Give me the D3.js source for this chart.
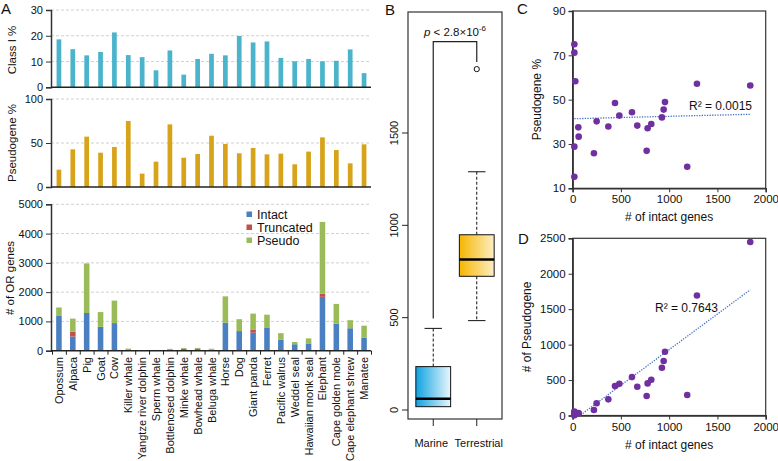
<!DOCTYPE html>
<html><head><meta charset="utf-8">
<script src="https://cdn.jsdelivr.net/npm/d3@7"></script>
<style>
body{margin:0;background:#fff}
text{font-family:"Liberation Sans",Arial,Helvetica,sans-serif;fill:#111}
</style>
</head><body>
<svg id="chart" width="778" height="461"></svg>
<script>
// ---------- DATA ----------
const species = ["Opossum","Alpaca","Pig","Goat","Cow","Killer whale","Yangtze river dolphin","Sperm whale","Bottlenosed dolphin","Minke whale","Bowhead whale","Beluga whale","Horse","Dog","Giant panda","Ferret","Pacific walrus","Weddel seal","Hawaiian monk seal","Elephant","Cape golden mole","Cape elephant shrew","Manatee"];
const classIPct = [18.6,14.8,12.4,13.7,21.3,12.5,11.7,6.6,14.3,4.9,11.0,13.0,12.4,19.9,17.4,17.8,11.4,10.1,11.0,10.1,10.3,14.7,5.5];
const pseudoPct = [19.7,42.8,57.2,39.0,45.5,75.0,15.2,28.8,71.2,33.3,37.5,58.3,48.9,38.3,44.3,37.1,37.9,25.8,40.2,56.4,42.0,26.9,48.5];
const intact    = [1187,484,1288,815,943,18,18,18,18,63,59,28,957,670,615,777,370,221,249,1840,925,767,439];
const truncated = [0,165,0,0,0,0,0,0,0,0,0,0,0,0,110,0,0,0,0,110,0,0,0];
const pseudo    = [289,447,1693,504,768,54,3,7,44,31,35,39,899,406,542,453,228,78,172,2448,673,275,415];
const seriesNames = ["Intact","Truncated","Pseudo"];
const classITicks = [0,10,20,30];
const pseudoPctTicks = [0,50,100];
const orTicks = [0,1000,2000,3000,4000,5000];

const boxGroups = ["Marine","Terrestrial"];
const boxWhiskerLow  = [18,484];
const boxQ1          = [18,724];
const boxMedian      = [61,815];
const boxQ3          = [235,949];
const boxWhiskerHigh = [442,1290];
const boxOutliers    = [[],[1846]];
const boxTicks = [0,500,1000,1500];

const scatterXTicks = [0,500,1000,1500,2000];
const cYTicks = [10,30,50,70,90];
const dYTicks = [0,500,1000,1500,2000,2500];
const trendC = [[18,41.4],[1840,43.4]];
const trendD = [[18,-58],[1840,1773]];
const r2C = "R\u00B2 = 0.0015";
const r2D = "R\u00B2 = 0.7643";

// ---------- STYLE ----------
const cClassI = "#4bb4cb", cPseudoPct = "#d6a31b";
const cStack = ["#4a7fc1","#c0504d","#9bbb59"];
const cDot = "#7030a0", cTrend = "#4472c4";
const svg = d3.select("#chart");
const FS = 11.5;
const FONT = "Liberation Sans, Arial, sans-serif";
const fmt = d3.format("d");

// ---------- PANEL A ----------
const xA = d3.scaleBand().domain(species).range([52,371]).paddingInner(0.66).paddingOuter(0.33);
const xAwide = d3.scaleBand().domain(species).range([52,371]).paddingInner(0.6).paddingOuter(0.3);
const axL = 51, axR = 371;

function styleAxis(s, fs){
  s.select(".domain").attr("stroke","#333").attr("stroke-width",1.5);
  s.selectAll(".tick line").attr("stroke","#333");
  s.selectAll(".tick text").attr("font-size",fs||FS).attr("font-family",FONT).attr("fill","#111");
}
function leftAxis(g, y, ticks){
  g.attr("transform",`translate(${axL},0)`)
   .call(d3.axisLeft(y).tickValues(ticks).tickFormat(fmt).tickSize(5).tickPadding(3))
   .call(s=>styleAxis(s,11));
}
function grid(y, ticks){
  svg.append("g").selectAll("line").data(ticks.filter(t=>t>0)).join("line")
    .attr("x1",axL).attr("x2",axR).attr("y1",d=>y(d)).attr("y2",d=>y(d))
    .attr("stroke","#d0d0d0").attr("stroke-dasharray","3,2").attr("stroke-width",1);
}
function yTitle(txt, x, y){
  svg.append("text").attr("transform",`translate(${x},${y}) rotate(-90)`)
    .attr("text-anchor","middle").attr("font-size",11.5).text(txt);
}

// Class I %
const y1 = d3.scaleLinear().domain([0,30]).range([87.3,10]);
grid(y1, classITicks);
svg.append("g").selectAll("rect").data(species).join("rect")
  .attr("x",d=>xA(d)).attr("width",xA.bandwidth())
  .attr("y",(d,i)=>y1(classIPct[i])).attr("height",(d,i)=>y1(0)-y1(classIPct[i]))
  .attr("fill",cClassI);
svg.append("g").call(g=>leftAxis(g,y1,classITicks));
svg.append("line").attr("x1",axL).attr("x2",axR).attr("y1",y1(0)).attr("y2",y1(0)).attr("stroke","#222").attr("stroke-width",1.5);
yTitle("Class I %", 16, 50);

// Pseudogene %
const y2 = d3.scaleLinear().domain([0,100]).range([187,99]);
grid(y2, pseudoPctTicks);
svg.append("g").selectAll("rect").data(species).join("rect")
  .attr("x",d=>xA(d)).attr("width",xA.bandwidth())
  .attr("y",(d,i)=>y2(pseudoPct[i])).attr("height",(d,i)=>y2(0)-y2(pseudoPct[i]))
  .attr("fill",cPseudoPct);
svg.append("g").call(g=>leftAxis(g,y2,pseudoPctTicks));
svg.append("line").attr("x1",axL).attr("x2",axR).attr("y1",y2(0)).attr("y2",y2(0)).attr("stroke","#222").attr("stroke-width",1.5);
yTitle("Pseudogene %", 16, 143);

// # of OR genes (stacked)
const y3 = d3.scaleLinear().domain([0,5000]).range([350.7,204.3]);
grid(y3, orTicks);
const stackRows = species.map((s,i)=>({sp:s, Intact:intact[i], Truncated:truncated[i], Pseudo:pseudo[i]}));
const stacked = d3.stack().keys(seriesNames)(stackRows);
svg.append("g").selectAll("g").data(stacked).join("g").attr("fill",(d,i)=>cStack[i])
  .selectAll("rect").data(d=>d).join("rect")
  .attr("x",d=>xAwide(d.data.sp)).attr("width",xAwide.bandwidth())
  .attr("y",d=>y3(d[1])).attr("height",d=>Math.max(0,y3(d[0])-y3(d[1])));
svg.append("g").call(g=>leftAxis(g,y3,orTicks));
const xIdx = d3.scaleLinear().domain([0,species.length]).range([52,371]);
svg.append("g").attr("transform",`translate(0,${y3(0)})`)
  .call(d3.axisBottom(xIdx).tickValues(d3.range(species.length+1)).tickFormat("").tickSize(4))
  .call(s=>s.select(".domain").attr("stroke","#222").attr("stroke-width",1.5).attr("d",`M${axL},0H${axR}`))
  .call(s=>s.selectAll(".tick line").attr("stroke","#222"));
yTitle("# of OR genes", 14, 278);
svg.append("g").selectAll("text").data(species).join("text")
  .attr("transform",d=>`translate(${xA(d)+xA.bandwidth()/2+4},357) rotate(-90)`)
  .attr("text-anchor","end").attr("font-size",11).text(d=>d);
// legend
const lg = svg.append("g");
seriesNames.forEach((n,i)=>{
  lg.append("rect").attr("x",246.5).attr("y",211.5+i*13).attr("width",5.5).attr("height",5.5).attr("fill",cStack[i]);
  lg.append("text").attr("x",257).attr("y",218.5+i*13).attr("font-size",12.5).text(n);
});
svg.append("text").attr("x",1).attr("y",14).attr("font-size",15).text("A");

// ---------- PANEL B ----------
const bL=408,bR=502,bT=12,bB=419;
const xB = d3.scaleLinear().domain([0.42,2.58]).range([bL,bR]);
const yB = d3.scaleLinear().domain([0,1500]).range([410,133]);
const defs = svg.append("defs");
const grads = [["gMar","#0fa3e2","#eaf6fb"],["gTer","#f5b600","#fdeec4"]];
grads.forEach(([id,c1,c2])=>{
  const g = defs.append("linearGradient").attr("id",id).attr("x1","0%").attr("x2","100%");
  g.append("stop").attr("offset","0%").attr("stop-color",c1);
  g.append("stop").attr("offset","100%").attr("stop-color",c2);
});
svg.append("rect").attr("x",bL).attr("y",bT).attr("width",bR-bL).attr("height",bB-bT)
  .attr("fill","none").attr("stroke","#333").attr("stroke-width",1.2);
boxGroups.forEach((g,i)=>{
  const cx = xB(i+1), hw = 17.4;
  svg.append("line").attr("x1",cx).attr("x2",cx).attr("y1",yB(boxQ3[i])).attr("y2",yB(boxWhiskerHigh[i]))
    .attr("stroke","#111").attr("stroke-dasharray","3,2");
  svg.append("line").attr("x1",cx-hw/2).attr("x2",cx+hw/2).attr("y1",yB(boxWhiskerHigh[i])).attr("y2",yB(boxWhiskerHigh[i])).attr("stroke","#111");
  if (boxWhiskerLow[i] < boxQ1[i]) {
    svg.append("line").attr("x1",cx).attr("x2",cx).attr("y1",yB(boxQ1[i])).attr("y2",yB(boxWhiskerLow[i]))
      .attr("stroke","#111").attr("stroke-dasharray","3,2");
    svg.append("line").attr("x1",cx-hw/2).attr("x2",cx+hw/2).attr("y1",yB(boxWhiskerLow[i])).attr("y2",yB(boxWhiskerLow[i])).attr("stroke","#111");
  }
  svg.append("rect").attr("x",cx-hw).attr("width",2*hw).attr("y",yB(boxQ3[i])).attr("height",yB(boxQ1[i])-yB(boxQ3[i]))
    .attr("fill",`url(#${i?"gTer":"gMar"})`).attr("stroke","#111").attr("stroke-width",1);
  svg.append("line").attr("x1",cx-hw).attr("x2",cx+hw).attr("y1",yB(boxMedian[i])).attr("y2",yB(boxMedian[i]))
    .attr("stroke","#000").attr("stroke-width",2.6);
  boxOutliers[i].forEach(v=>{
    svg.append("circle").attr("cx",cx).attr("cy",yB(v)).attr("r",2.6).attr("fill","none").attr("stroke","#111");
  });
});
const topMax = boxGroups.map((g,i)=>d3.max([boxWhiskerHigh[i], ...boxOutliers[i]]));
const brY = 41.7;
svg.append("path").attr("fill","none").attr("stroke","#222").attr("stroke-width",1.2)
  .attr("d",`M${xB(1)},${yB(topMax[0])-10}V${brY}H${xB(2)}V${yB(topMax[1])-7}`);
const pt = svg.append("text").attr("x",455).attr("y",36).attr("text-anchor","middle").attr("font-size",11.5);
pt.append("tspan").attr("font-style","italic").text("p");
pt.append("tspan").text(" < 2.8\u00D710");
pt.append("tspan").attr("dy",-5).attr("font-size",8).text("-6");
svg.append("g").selectAll("line").data(boxTicks).join("line")
  .attr("x1",bL-6).attr("x2",bL).attr("y1",d=>yB(d)).attr("y2",d=>yB(d)).attr("stroke","#222");
svg.append("g").selectAll("text").data(boxTicks).join("text")
  .attr("transform",d=>`translate(${bL-10},${yB(d)}) rotate(-90)`).attr("text-anchor","middle")
  .attr("font-size",11).text(d=>d);
svg.append("g").selectAll("line").data(boxGroups).join("line")
  .attr("x1",(d,i)=>xB(i+1)).attr("x2",(d,i)=>xB(i+1)).attr("y1",bB).attr("y2",bB+7).attr("stroke","#222");
svg.append("g").selectAll("text").data(boxGroups).join("text")
  .attr("x",(d,i)=>xB(i+1)+(i?2:-2)).attr("y",447).attr("text-anchor","middle").attr("font-size",11).text(d=>d);
svg.append("text").attr("x",385).attr("y",15).attr("font-size",15).text("B");

// ---------- PANELS C & D ----------
const sL=572.6, sR=765.7;
const xS = d3.scaleLinear().domain([0,2000]).range([sL,sR]);
function scatterPanel(top, bottom, yDomain, yTicks, yVals, trend, r2, r2x, r2y, ytitle, ytx, label, lx, ly){
  const y = d3.scaleLinear().domain(yDomain).range([bottom, top]);
  const g = svg.append("g");
  g.append("rect").attr("x",sL).attr("y",top).attr("width",sR-sL).attr("height",bottom-top)
    .attr("fill","none").attr("stroke","#333").attr("stroke-width",1.2);
  g.append("g").attr("transform",`translate(${sL},0)`)
    .call(d3.axisLeft(y).tickValues(yTicks).tickFormat(fmt).tickSize(4).tickPadding(3))
    .call(s=>styleAxis(s,11.5));
  g.append("g").attr("transform",`translate(0,${bottom})`)
    .call(d3.axisBottom(xS).tickValues(scatterXTicks).tickFormat(fmt).tickSize(4).tickPadding(3))
    .call(s=>styleAxis(s,11.5));
  const clipId = "clip"+label;
  defs.append("clipPath").attr("id",clipId).append("rect").attr("x",sL).attr("y",top).attr("width",sR-sL).attr("height",bottom-top);
  g.append("line").attr("clip-path",`url(#${clipId})`)
    .attr("x1",xS(trend[0][0])).attr("y1",y(trend[0][1])).attr("x2",xS(trend[1][0])).attr("y2",y(trend[1][1]))
    .attr("stroke",cTrend).attr("stroke-width",1.3).attr("stroke-dasharray","1.3,1.3");
  g.append("g").selectAll("circle").data(species).join("circle")
    .attr("cx",(d,i)=>xS(intact[i])).attr("cy",(d,i)=>y(yVals[i])).attr("r",3.3).attr("fill",cDot);
  g.append("text").attr("x",r2x).attr("y",r2y).attr("font-size",12).text(r2);
  g.append("text").attr("x",(sL+sR)/2).attr("y",bottom+33).attr("text-anchor","middle").attr("font-size",12).text("# of intact genes");
  g.append("text").attr("transform",`translate(${ytx},${(top+bottom)/2}) rotate(-90)`).attr("text-anchor","middle").attr("font-size",12).text(ytitle);
  svg.append("text").attr("x",lx).attr("y",ly).attr("font-size",15).text(label);
}
scatterPanel(11,188.3,[10,90],cYTicks,pseudoPct,trendC,r2C,689,110,"Pseudogene %",541,"C",517,14);
scatterPanel(238.3,415.5,[0,2500],dYTicks,pseudo,trendD,r2D,655,312,"# of Pseudogene",531,"D",518,244);
</script>
</body></html>
